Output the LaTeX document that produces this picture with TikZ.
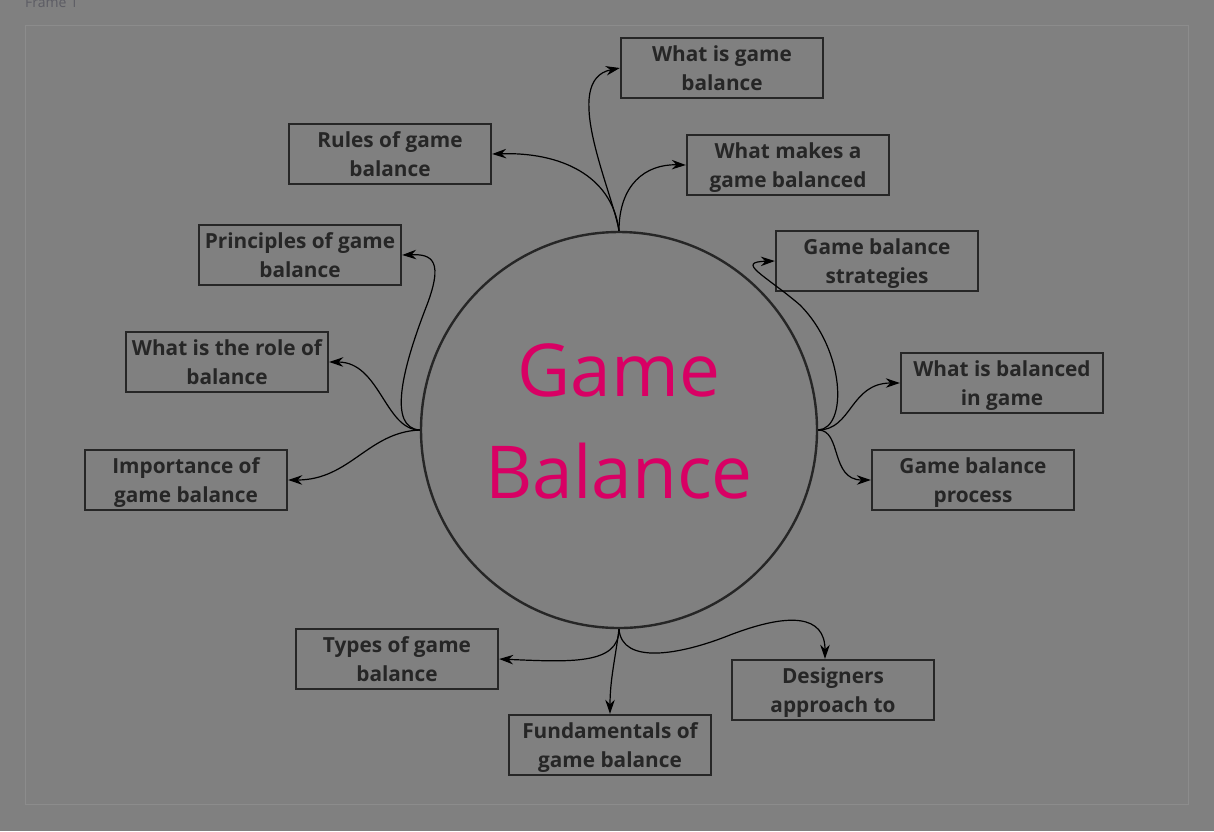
\documentclass[tikz,border=0pt]{standalone}
\usepackage{fontspec}
\setmainfont{Open Sans}
\usetikzlibrary{arrows.meta}
\definecolor{bg}{RGB}{128,128,128}
\definecolor{ink}{RGB}{38,38,38}
\definecolor{pink}{RGB}{216,0,100}
\definecolor{framegray}{RGB}{140,140,140}
\definecolor{framelabel}{RGB}{92,92,100}

\begin{document}
\begin{tikzpicture}[x=1pt,y=-1pt]

\tikzset{box/.style = {shape=rectangle,draw=ink,line width=2.4pt,minimum width=202pt,minimum height=60pt,inner sep=0pt,align=center,text=ink,text height=50pt,text depth=6pt,font=\fontsize{20.8}{29}\selectfont\bfseries}}
\tikzset{hub/.style = {shape=circle,draw=ink,line width=2.4pt,minimum size=396pt,inner sep=0pt}}
\tikzset{edge/.style = {->,> = {Stealth[length=14pt,width=9.5pt]},line width=1.2pt,black}}

%frame
\useasboundingbox (0,0) rectangle (1214,831);
\fill[bg] (0,0) rectangle (1214,831);
\draw[framegray,line width=1pt] (25,25) rectangle (1188,804);
\node[anchor=base west,inner sep=0pt,text=framelabel,font=\fontsize{14}{16}\selectfont] (f) at (25,7) {Frame 1};
%verticies
\node[hub] (0) at (619,430) {};
\node[text=pink,align=center,font=\fontsize{73}{102}\selectfont] (t) at (619,421) {Game\\Balance};
\node[box] (1) at (722,68) {What is game\\balance};
\node[box] (2) at (788,165) {What makes a\\game balanced};
\node[box] (3) at (390,154) {Rules of game\\balance};
\node[box] (4) at (300,255) {Principles of game\\balance};
\node[box] (5) at (227,362) {What is the role of\\balance};
\node[box] (6) at (186,480) {Importance of\\game balance};
\node[box] (7) at (877,261) {Game balance\\strategies};
\node[box] (8) at (1002,383) {What is balanced\\in game};
\node[box] (9) at (973,480) {Game balance\\process};
\node[box] (10) at (397,659) {Types of game\\balance};
\node[box] (11) at (610,745) {Fundamentals of\\game balance};
\node[box] (12) at (833,690) {Designers\\approach to};
%top
\draw[edge] (0.north) .. controls (612,190) and (560,80) .. (1.west);
\draw[edge] (0.north) .. controls (619,185) and (645,164) .. (2.west);
\draw[edge] (0.north) .. controls (612,175) and (560,152) .. (3.east);
%left
\draw[edge] (0.west) .. controls (388,428) and (402,370) .. (425,310) .. controls (445,260) and (432,254) .. (4.east);
\draw[edge] (0.west) .. controls (385,430) and (380,362) .. (5.east);
\draw[edge] (0.west) .. controls (368,432) and (350,480) .. (6.east);
%right
\draw[edge] (0.east) .. controls (848,428) and (845,350) .. (800,305) .. controls (765,275) and (735,262) .. (7.west);
\draw[edge] (0.east) .. controls (852,430) and (850,383) .. (8.west);
\draw[edge] (0.east) .. controls (842,430) and (830,480) .. (9.west);
%bottom
\draw[edge] (0.south) .. controls (619,665) and (570,662) .. (10.east);
\draw[edge] (0.south) .. controls (615,660) and (610,680) .. (11.north);
\draw[edge] (0.south) .. controls (622,665) and (680,655) .. (730,635) .. controls (790,612) and (825,615) .. ([xshift=-8pt]12.north);

\end{tikzpicture}
\end{document}
